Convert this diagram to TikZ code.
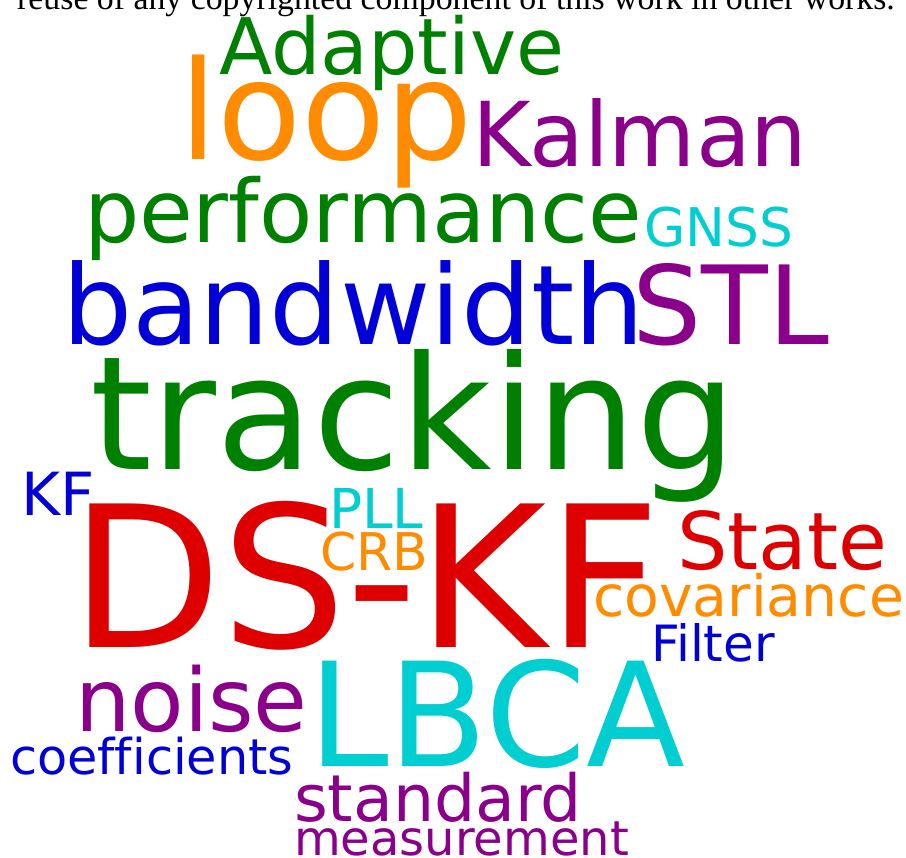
\documentclass[tikz,border=0pt]{standalone}
\usepackage{fontspec}
\setmainfont[Ligatures=NoCommon]{DejaVu Sans}
\newfontfamily\notefont{Liberation Serif}
\definecolor{wgreen}{RGB}{0,128,0}
\definecolor{worange}{RGB}{255,140,0}
\definecolor{wpurple}{RGB}{139,0,139}
\definecolor{wcyan}{RGB}{0,206,209}
\definecolor{wblue}{RGB}{0,0,215}
\definecolor{wred}{RGB}{222,0,0}
\tikzset{
  word/.style n args={2}{anchor=base west, inner sep=0pt, outer sep=0pt,
    text=#1, font=\fontsize{#2}{#2}\selectfont},
}
\begin{document}
\begin{tikzpicture}[x=1pt, y=-1pt]
\useasboundingbox (0,0) rectangle (906,858);
\fill[white] (0,0) rectangle (906,858);
% copyright line, cut by the top edge
\node[anchor=base west, inner sep=0pt, font=\notefont\fontsize{33.8}{33.8}\selectfont] (note) at (17,10)
  {reuse of any copyrighted component of this work in other works.};
% word cloud
\node[word={wgreen}{78}]    (adaptive)     at (219,75)  {Adaptive};
\node[word={worange}{137.6}] (loop)        at (179,160) {loop};
\node[word={wpurple}{89.5}] (kalman)       at (472,167) {Kalman};
\node[word={wgreen}{87.2}]  (performance)  at (84,243)  {performance};
\node[word={wcyan}{53.3}]   (gnss)         at (644,247) {GNSS};
\node[word={wblue}{110.5}]  (bandwidth)    at (62,345)  {bandwidth};
\node[word={wpurple}{109.2}] (stl)         at (632,345) {STL};
\node[word={wgreen}{158}]   (tracking)     at (90,470)  {tracking};
\node[word={wblue}{59.5}]   (kf)           at (21,516)  {KF};
\node[word={wred}{197}]     (dskf)         at (70,648)  {DS-KF};
\node[word={wcyan}{55}]     (pll)          at (329,529) {PLL};
\node[word={worange}{52}]   (crb)          at (320,571) {CRB};
\node[word={wred}{79.4}]    (state)        at (677,570) {State};
\node[word={worange}{56.9}] (covariance)   at (593,617) {covariance};
\node[word={wblue}{50}]     (filter)       at (651,662) {Filter};
\node[word={wcyan}{144.6}]  (lbca)         at (308,766) {LBCA};
\node[word={wpurple}{87.5}] (noise)        at (75,731)  {noise};
\node[word={wblue}{49.3}]   (coefficients) at (10,774)  {coefficients};
\node[word={wpurple}{64.9}] (standard)     at (294,821) {standard};
\node[word={wpurple}{48}]   (measurement)  at (294,855) {measurement};
\end{tikzpicture}
\end{document}
